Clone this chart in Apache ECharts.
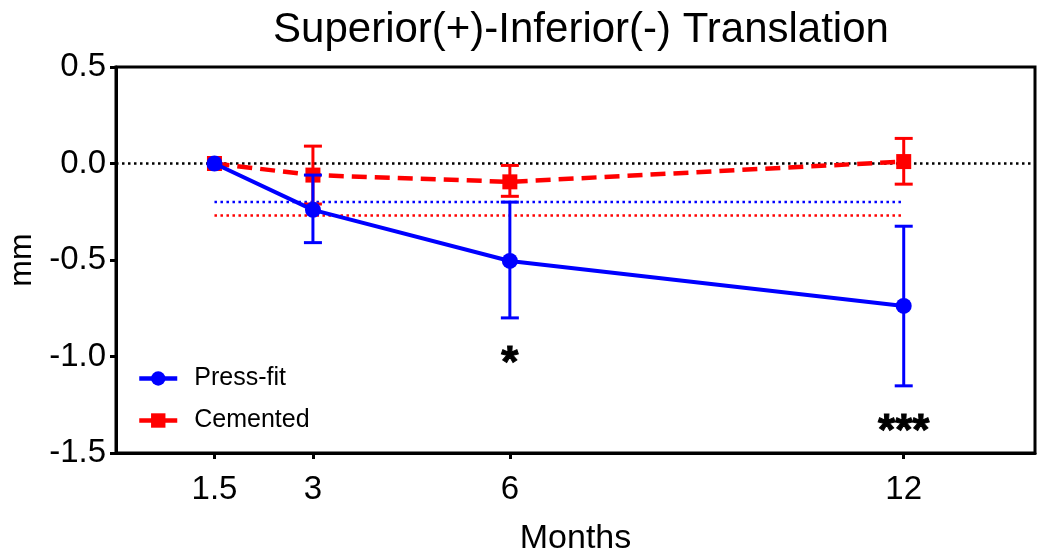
<!DOCTYPE html>
<html><head><meta charset="utf-8">
<script src="https://cdn.jsdelivr.net/npm/echarts@6/dist/echarts.min.js"></script>
<style>html,body{margin:0;padding:0;background:#fff}#c{width:1039px;height:554px}</style>
</head><body><div id="c"></div>
<script>
const months = [1.5, 3, 6, 12];
const xTickValues = [1.5, 3, 6, 12];
const pressFitMean = [0, -0.24, -0.505, -0.738];
const pressFitUpper = [0, -0.06, -0.2, -0.325];
const pressFitLower = [0, -0.41, -0.80, -1.152];
const cementedMean = [0, -0.06, -0.095, 0.01];
const cementedUpper = [0, 0.09, -0.01, 0.13];
const cementedLower = [0, -0.21, -0.17, -0.107];
const pressFitRef = -0.2;
const cementedRef = -0.27;
const sigX = [6, 12];
const sigY = [-1.0, -1.355];
const sigText = ['*', '***'];

const FONT = 'Liberation Sans, Arial, Helvetica, sans-serif';
const BLUE = '#0000ff', RED = '#ff0000';

function errSeries(name, color, lower, upper, z) {
  return {
    type: 'custom', name: name + ' err', z: z, silent: true,
    data: months.map((m, i) => [m, lower[i], upper[i]]),
    renderItem: function (params, api) {
      const lo = api.coord([api.value(0), api.value(1)]);
      const hi = api.coord([api.value(0), api.value(2)]);
      if (Math.abs(lo[1] - hi[1]) < 1) return null;
      const w = 9;
      const st = {stroke: color, lineWidth: 3};
      return {type: 'group', children: [
        {type: 'line', shape: {x1: lo[0], y1: lo[1], x2: hi[0], y2: hi[1]}, style: st},
        {type: 'line', shape: {x1: lo[0] - w, y1: lo[1], x2: lo[0] + w, y2: lo[1]}, style: st},
        {type: 'line', shape: {x1: hi[0] - w, y1: hi[1], x2: hi[0] + w, y2: hi[1]}, style: st}
      ]};
    }
  };
}

const chart = echarts.init(document.getElementById('c'), null, {renderer: 'canvas'});
chart.setOption({
  animation: false,
  textStyle: {fontFamily: FONT},
  title: {text: 'Superior(+)-Inferior(-) Translation', left: 576, top: 4, textAlign: 'center',
    textStyle: {fontSize: 42, fontWeight: 'normal', color: '#000', fontFamily: FONT}},
  grid: {left: 116, right: 4, top: 67, bottom: 101, show: true, borderColor: '#000', borderWidth: 3,
    containLabel: false, outerBoundsMode: 'none'},
  legend: {
    orient: 'vertical', left: 137, top: 366, padding: 0, itemWidth: 38, itemHeight: 18, itemGap: 17,
    lineStyle: {width: 4.5},
    textStyle: {fontSize: 25, color: '#000', fontFamily: FONT, padding: [0, 0, 0, 12]},
    data: ['Press-fit', 'Cemented']
  },
  xAxis: {
    type: 'value', min: 0, max: 14, interval: 1.5,
    name: 'Months', nameLocation: 'middle', nameGap: 69,
    nameTextStyle: {fontSize: 34, color: '#000', fontFamily: FONT},
    splitLine: {show: false},
    axisLine: {onZero: false, lineStyle: {color: '#000', width: 3}},
    axisTick: {customValues: xTickValues, length: 6, lineStyle: {width: 3, color: '#000'}},
    axisLabel: {customValues: xTickValues, fontSize: 33, color: '#000', margin: 20, fontFamily: FONT}
  },
  yAxis: {
    type: 'value', min: -1.5, max: 0.5, interval: 0.5,
    name: 'mm', nameLocation: 'middle', nameGap: 75,
    nameTextStyle: {fontSize: 32, color: '#000', fontFamily: FONT},
    splitLine: {show: false},
    axisLine: {onZero: false, lineStyle: {color: '#000', width: 3}},
    axisTick: {length: 6, lineStyle: {width: 3, color: '#000'}},
    axisLabel: {fontSize: 33, color: '#000', margin: 10, fontFamily: FONT, formatter: v => v.toFixed(1)}
  },
  series: [
    {
      type: 'line', name: 'zero', z: 1, silent: true, symbol: 'none',
      data: [[0, 0], [14, 0]],
      lineStyle: {color: '#000', width: 2.5, type: [2.5, 3.5]}
    },
    {
      type: 'line', name: 'pref', z: 1, silent: true, symbol: 'none',
      data: [[months[0], pressFitRef], [months[months.length - 1], pressFitRef]],
      lineStyle: {color: BLUE, width: 2.5, type: [2.5, 3.5]}
    },
    {
      type: 'line', name: 'cref', z: 1, silent: true, symbol: 'none',
      data: [[months[0], cementedRef], [months[months.length - 1], cementedRef]],
      lineStyle: {color: RED, width: 2.5, type: [2.5, 3.5]}
    },
    errSeries('Cemented', RED, cementedLower, cementedUpper, 3),
    {
      type: 'line', name: 'Cemented', z: 4,
      data: months.map((m, i) => [m, cementedMean[i]]),
      symbol: 'rect', symbolSize: 15,
      itemStyle: {color: RED},
      lineStyle: {color: RED, width: 4.5, type: [15, 8]}
    },
    errSeries('Press-fit', BLUE, pressFitLower, pressFitUpper, 5),
    {
      type: 'line', name: 'Press-fit', z: 6,
      data: months.map((m, i) => [m, pressFitMean[i]]),
      symbol: 'circle', symbolSize: 16,
      itemStyle: {color: BLUE},
      lineStyle: {color: BLUE, width: 4}
    },
    {
      type: 'custom', name: 'sig', z: 7, silent: true,
      data: sigX.map((x, i) => [x, sigY[i], i]),
      renderItem: function (params, api) {
        const p = api.coord([api.value(0), api.value(1)]);
        return {type: 'text', x: p[0], y: p[1] + 8, style: {
          text: sigText[api.value(2)], fill: '#000', stroke: '#000', lineWidth: 1,
          font: 'bold 44px ' + FONT, align: 'center', verticalAlign: 'middle'}};
      }
    }
  ]
});
</script></body></html>
